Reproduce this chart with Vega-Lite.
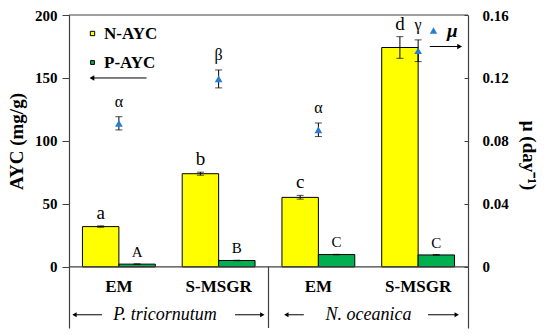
{
  "$schema": "https://vega.github.io/schema/vega-lite/v6.json",
  "width": 399,
  "height": 313,
  "autosize": {"type": "none"},
  "padding": {"left": 69, "top": 15, "right": 82, "bottom": 7},
  "background": "white",
  "config": {
    "view": {"stroke": null},
    "font": "Liberation Serif",
    "axis": {"domainColor": "#404040", "tickColor": "#404040", "labelColor": "black", "titleColor": "black", "labelFont": "Liberation Serif", "titleFont": "Liberation Serif", "labelFontWeight": "bold", "titleFontWeight": "bold", "labelFontSize": 15, "titleFontSize": 19, "grid": false, "domainWidth": 1.2},
    "legend": {"labelFont": "Liberation Serif", "labelFontWeight": "bold", "labelColor": "black"}
  },
  "datasets": {
    "ayc": [
      {"group": "P-EM", "series": "N-AYC", "value": 32.0, "lo": 31.5, "hi": 32.6, "label": "a"},
      {"group": "P-EM", "series": "P-AYC", "value": 2.2, "lo": 2.0, "hi": 2.4, "label": "A"},
      {"group": "P-SMSGR", "series": "N-AYC", "value": 74.0, "lo": 72.8, "hi": 75.2, "label": "b"},
      {"group": "P-SMSGR", "series": "P-AYC", "value": 5.1, "lo": 4.9, "hi": 5.3, "label": "B"},
      {"group": "N-EM", "series": "N-AYC", "value": 55.2, "lo": 53.8, "hi": 56.8, "label": "c"},
      {"group": "N-EM", "series": "P-AYC", "value": 9.8, "lo": 9.6, "hi": 10.0, "label": "C"},
      {"group": "N-SMSGR", "series": "N-AYC", "value": 174.2, "lo": 165.6, "hi": 182.8, "label": "d"},
      {"group": "N-SMSGR", "series": "P-AYC", "value": 9.5, "lo": 9.3, "hi": 9.8, "label": "C"}
    ],
    "mu": [
      {"group": "P-EM", "param": "μ", "mu": 0.0912, "lo": 0.0870, "hi": 0.0954, "label": "α"},
      {"group": "P-SMSGR", "param": "μ", "mu": 0.1194, "lo": 0.1137, "hi": 0.1251, "label": "β"},
      {"group": "N-EM", "param": "μ", "mu": 0.0871, "lo": 0.0828, "hi": 0.0914, "label": "α"},
      {"group": "N-SMSGR", "param": "μ", "mu": 0.1373, "lo": 0.1304, "hi": 0.1442, "label": "γ"}
    ],
    "groups": [
      {"group": "P-EM", "treatment": "EM"},
      {"group": "P-SMSGR", "treatment": "S-MSGR"},
      {"group": "N-EM", "treatment": "EM"},
      {"group": "N-SMSGR", "treatment": "S-MSGR"}
    ]
  },
  "layer": [
    {
      "data": {"name": "ayc"},
      "layer": [
        {
          "mark": {"type": "bar", "stroke": "black", "strokeWidth": 1},
          "encoding": {
            "x": {"field": "group", "type": "nominal", "scale": {"domain": ["P-EM", "P-SMSGR", "N-EM", "N-SMSGR"], "paddingInner": 0.27, "paddingOuter": 0.135}, "axis": null},
            "xOffset": {"field": "series", "type": "nominal", "scale": {"domain": ["N-AYC", "P-AYC"], "paddingInner": 0, "paddingOuter": 0}},
            "y": {"field": "value", "type": "quantitative", "scale": {"domain": [-48.5, 200], "nice": false, "zero": false},
              "axis": {"title": "AYC (mg/g)", "values": [0, 25, 50, 75, 100, 125, 150, 175, 200], "labelExpr": "datum.value % 50 === 0 ? datum.label : ''", "tickSize": {"condition": {"test": "datum.value % 50 === 0", "value": 7}, "value": -3}, "labelPadding": 5, "titlePadding": 8, "titleY": 126}},
            "y2": {"datum": 0},
            "color": {"field": "series", "type": "nominal", "scale": {"domain": ["N-AYC", "P-AYC"], "range": ["#FFFF00", "#00B050"]},
              "legend": {"title": null, "orient": "none", "legendX": 15, "legendY": 10, "symbolType": "square", "symbolSize": 55, "symbolStrokeColor": "black", "symbolStrokeWidth": 1, "labelFont": "Liberation Serif", "labelFontWeight": "bold", "labelFontSize": 17, "rowPadding": 11, "labelOffset": 3}}
          }
        },
        {
          "mark": {"type": "rule", "color": "black", "strokeWidth": 1},
          "encoding": {
            "x": {"field": "group", "type": "nominal"},
            "xOffset": {"field": "series", "type": "nominal"},
            "y": {"field": "lo", "type": "quantitative"},
            "y2": {"field": "hi"}
          }
        },
        {
          "mark": {"type": "tick", "color": "black", "size": 7, "thickness": 1, "orient": "horizontal"},
          "encoding": {
            "x": {"field": "group", "type": "nominal"},
            "xOffset": {"field": "series", "type": "nominal"},
            "y": {"field": "lo", "type": "quantitative"}
          }
        },
        {
          "mark": {"type": "tick", "color": "black", "size": 7, "thickness": 1, "orient": "horizontal"},
          "encoding": {
            "x": {"field": "group", "type": "nominal"},
            "xOffset": {"field": "series", "type": "nominal"},
            "y": {"field": "hi", "type": "quantitative"}
          }
        },
        {
          "mark": {"type": "text", "dy": -7, "baseline": "alphabetic", "font": "Liberation Serif", "color": "black"},
          "encoding": {
            "x": {"field": "group", "type": "nominal"},
            "xOffset": {"field": "series", "type": "nominal"},
            "y": {"field": "hi", "type": "quantitative"},
            "text": {"field": "label"},
            "size": {"field": "series", "type": "nominal", "scale": {"domain": ["N-AYC", "P-AYC"], "range": [19, 15]}, "legend": null}
          }
        },
        {
          "data": {"values": [{}]},
          "mark": {"type": "rule", "color": "#404040", "strokeWidth": 1.2},
          "encoding": {"y": {"datum": 0}}
        },
        {
          "data": {"values": [{}]},
          "mark": {"type": "rule", "color": "#404040", "strokeWidth": 1.2},
          "encoding": {"y": {"datum": 200}}
        },
        {
          "data": {"values": [{}]},
          "mark": {"type": "rule", "color": "#404040", "strokeWidth": 1.2},
          "encoding": {"x": {"datum": "N-EM", "bandPosition": -0.185}, "y": {"datum": 0}, "y2": {"datum": -48.5}}
        },
        {
          "data": {"name": "groups"},
          "mark": {"type": "text", "baseline": "alphabetic", "font": "Liberation Serif", "fontWeight": "bold", "fontSize": 17, "color": "black"},
          "encoding": {
            "x": {"field": "group", "type": "nominal"},
            "y": {"datum": -20},
            "text": {"field": "treatment"}
          }
        },
        {
          "data": {"values": [{}]},
          "mark": {"type": "text", "baseline": "alphabetic", "font": "Liberation Serif", "fontStyle": "italic", "fontSize": 18, "color": "black"},
          "encoding": {"x": {"datum": "P-SMSGR", "bandPosition": -0.236}, "y": {"datum": -42}, "text": {"value": "P. tricornutum"}}
        },
        {
          "data": {"values": [{}]},
          "mark": {"type": "text", "baseline": "alphabetic", "font": "Liberation Serif", "fontStyle": "italic", "fontSize": 18, "color": "black"},
          "encoding": {"x": {"datum": "N-SMSGR", "bandPosition": -0.181}, "y": {"datum": -42}, "text": {"value": "N. oceanica"}}
        },
        {
          "data": {"values": [{}]},
          "mark": {"type": "rule", "color": "black", "strokeWidth": 1},
          "encoding": {"x": {"datum": "P-EM", "bandPosition": -0.11}, "x2": {"datum": "P-EM", "bandPosition": 0.268}, "y": {"datum": -38}}
        },
        {
          "data": {"values": [{}]},
          "mark": {"type": "point", "shape": "triangle-left", "filled": true, "color": "black", "size": 25, "opacity": 1},
          "encoding": {"x": {"datum": "P-EM", "bandPosition": -0.11}, "y": {"datum": -38}}
        },
        {
          "data": {"values": [{}]},
          "mark": {"type": "rule", "color": "black", "strokeWidth": 1},
          "encoding": {"x": {"datum": "P-SMSGR", "bandPosition": 0.725}, "x2": {"datum": "P-SMSGR", "bandPosition": 1.1}, "y": {"datum": -38}}
        },
        {
          "data": {"values": [{}]},
          "mark": {"type": "point", "shape": "triangle-right", "filled": true, "color": "black", "size": 25, "opacity": 1},
          "encoding": {"x": {"datum": "P-SMSGR", "bandPosition": 1.1}, "y": {"datum": -38}}
        },
        {
          "data": {"values": [{}]},
          "mark": {"type": "rule", "color": "black", "strokeWidth": 1},
          "encoding": {"x": {"datum": "N-EM", "bandPosition": 0.06}, "x2": {"datum": "N-EM", "bandPosition": 0.3}, "y": {"datum": -38}}
        },
        {
          "data": {"values": [{}]},
          "mark": {"type": "point", "shape": "triangle-left", "filled": true, "color": "black", "size": 25, "opacity": 1},
          "encoding": {"x": {"datum": "N-EM", "bandPosition": 0.06}, "y": {"datum": -38}}
        },
        {
          "data": {"values": [{}]},
          "mark": {"type": "rule", "color": "black", "strokeWidth": 1},
          "encoding": {"x": {"datum": "N-SMSGR", "bandPosition": 0.636}, "x2": {"datum": "N-SMSGR", "bandPosition": 1.03}, "y": {"datum": -38}}
        },
        {
          "data": {"values": [{}]},
          "mark": {"type": "point", "shape": "triangle-right", "filled": true, "color": "black", "size": 25, "opacity": 1},
          "encoding": {"x": {"datum": "N-SMSGR", "bandPosition": 1.03}, "y": {"datum": -38}}
        },
        {
          "data": {"values": [{}]},
          "mark": {"type": "rule", "color": "black", "strokeWidth": 1},
          "encoding": {"x": {"datum": "P-EM", "bandPosition": 0.13}, "x2": {"datum": "P-EM", "bandPosition": 0.88}, "y": {"datum": 150}}
        },
        {
          "data": {"values": [{}]},
          "mark": {"type": "point", "shape": "triangle-left", "filled": true, "color": "black", "size": 30, "opacity": 1},
          "encoding": {"x": {"datum": "P-EM", "bandPosition": 0.13}, "y": {"datum": 150}}
        }
      ]
    },
    {
      "data": {"name": "mu"},
      "layer": [
        {
          "mark": {"type": "rule", "color": "black", "strokeWidth": 1},
          "encoding": {
            "x": {"field": "group", "type": "nominal"},
            "y": {"field": "lo", "type": "quantitative", "scale": {"domain": [-0.0388, 0.16], "nice": false, "zero": false},
              "axis": {"orient": "right", "title": "μ (day⁻¹)", "values": [0, 0.02, 0.04, 0.06, 0.08, 0.1, 0.12, 0.14, 0.16], "labelExpr": "round(datum.value * 100) % 4 === 0 ? (datum.value === 0 ? '0' : format(datum.value, '.2f')) : ''", "tickSize": -4, "labelPadding": 18, "titlePadding": 10, "titleY": 140}},
            "y2": {"field": "hi"}
          }
        },
        {
          "mark": {"type": "tick", "color": "black", "size": 7, "thickness": 1, "orient": "horizontal"},
          "encoding": {"x": {"field": "group", "type": "nominal"}, "y": {"field": "lo", "type": "quantitative"}}
        },
        {
          "mark": {"type": "tick", "color": "black", "size": 7, "thickness": 1, "orient": "horizontal"},
          "encoding": {"x": {"field": "group", "type": "nominal"}, "y": {"field": "hi", "type": "quantitative"}}
        },
        {
          "mark": {"type": "point", "filled": true, "color": "#2B7BD0", "size": 60, "opacity": 1},
          "encoding": {
            "x": {"field": "group", "type": "nominal"},
            "y": {"field": "mu", "type": "quantitative"},
            "shape": {"field": "param", "type": "nominal", "scale": {"domain": ["μ"], "range": ["triangle-up"]},
              "legend": {"title": null, "orient": "none", "legendX": 355, "legendY": 6, "symbolFillColor": "#2B7BD0", "symbolStrokeColor": "#2B7BD0", "symbolSize": 55, "labelFont": "Liberation Serif", "labelFontSize": 19, "labelFontStyle": "italic", "labelFontWeight": "bold", "labelOffset": 4}}
          }
        },
        {
          "mark": {"type": "text", "dy": -10, "baseline": "alphabetic", "font": "Liberation Serif", "fontSize": 16, "color": "black"},
          "encoding": {"x": {"field": "group", "type": "nominal"}, "y": {"field": "hi", "type": "quantitative"}, "text": {"field": "label"}}
        },
        {
          "data": {"values": [{}]},
          "mark": {"type": "rule", "color": "black", "strokeWidth": 1},
          "encoding": {"x": {"datum": "N-SMSGR", "bandPosition": 0.66}, "x2": {"datum": "N-SMSGR", "bandPosition": 1.07}, "y": {"datum": 0.14}}
        },
        {
          "data": {"values": [{}]},
          "mark": {"type": "point", "shape": "triangle-right", "filled": true, "color": "black", "size": 30, "opacity": 1},
          "encoding": {"x": {"datum": "N-SMSGR", "bandPosition": 1.07}, "y": {"datum": 0.14}}
        }
      ]
    }
  ],
  "resolve": {"scale": {"y": "independent"}}
}
